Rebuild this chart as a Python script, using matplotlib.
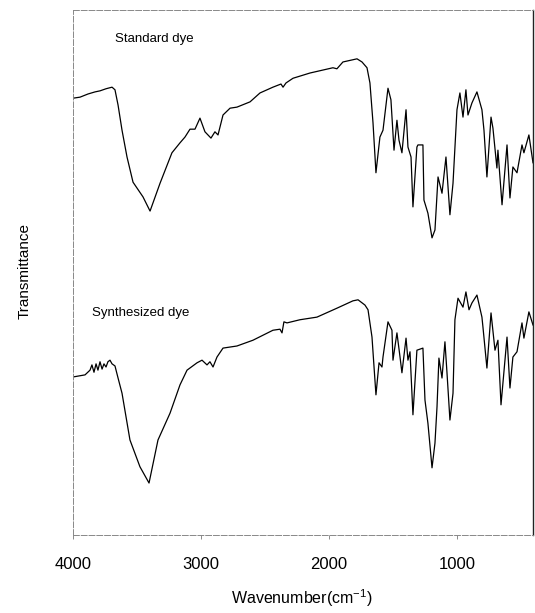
import matplotlib
matplotlib.use("Agg")
import matplotlib.pyplot as plt
import numpy as np

plt.rcParams['font.family'] = ['Liberation Sans', 'DejaVu Sans']
plt.rcParams['mathtext.fontset'] = 'custom'
plt.rcParams['mathtext.rm'] = 'Liberation Sans'
plt.rcParams['mathtext.it'] = 'Liberation Sans:italic'

# FTIR spectra, wavenumber (cm-1) vs transmittance (arbitrary units, offset)
standard_wn = [4000, 3945, 3883, 3828, 3789, 3742, 3695, 3672, 3648, 3617,
               3578, 3531, 3453, 3398, 3320, 3227, 3164, 3125, 3086, 3047,
               3008, 2969, 2922, 2891, 2867, 2828, 2773, 2719, 2617, 2539,
               2438, 2375, 2359, 2336, 2281, 2148, 1969, 1938, 1891, 1781,
               1742, 1703, 1680, 1656, 1633, 1602, 1578, 1539, 1516, 1492,
               1469, 1453, 1430, 1398, 1383, 1359, 1344, 1313, 1305, 1266,
               1258, 1227, 1195, 1172, 1148, 1117, 1086, 1070, 1055, 1031,
               1000, 977, 953, 930, 914, 883, 844, 805, 789, 766,
               734, 719, 688, 680, 648, 609, 586, 563, 531, 492,
               477, 438, 406]
standard_t = [83.2, 83.4, 84.0, 84.4, 84.6, 85.0, 85.3, 84.8, 81.9, 77.1,
              72.0, 67.2, 64.4, 61.7, 67.0, 72.8, 74.7, 75.8, 77.3, 77.3,
              79.4, 76.8, 75.6, 76.8, 76.2, 80.0, 81.3, 81.5, 82.5, 84.2,
              85.3, 85.9, 85.3, 86.1, 87.0, 88.0, 89.0, 88.8, 90.1, 90.7,
              90.1, 89.0, 86.1, 78.5, 69.0, 75.8, 77.1, 85.1, 82.9, 73.3,
              79.0, 75.2, 72.8, 81.0, 73.9, 72.0, 62.5, 73.9, 74.3, 74.3,
              63.8, 61.3, 56.6, 58.1, 68.2, 65.1, 72.0, 66.3, 61.0, 67.0,
              81.0, 84.2, 79.6, 84.8, 80.0, 82.3, 84.4, 81.0, 77.1, 68.2,
              79.6, 77.5, 69.9, 73.3, 62.9, 74.3, 64.2, 70.1, 69.0, 74.3,
              72.8, 76.2, 70.9]

synth_wn = [4000, 3906, 3867, 3852, 3836, 3820, 3805, 3789, 3773, 3758,
            3742, 3727, 3711, 3695, 3672, 3648, 3617, 3555, 3477, 3406,
            3336, 3242, 3164, 3109, 3031, 2992, 2953, 2930, 2906, 2875,
            2828, 2719, 2594, 2438, 2383, 2367, 2352, 2328, 2227, 2094,
            1938, 1813, 1773, 1719, 1695, 1664, 1648, 1633, 1609, 1586,
            1578, 1539, 1508, 1500, 1469, 1445, 1430, 1398, 1383, 1367,
            1344, 1313, 1266, 1250, 1227, 1195, 1172, 1156, 1141, 1117,
            1094, 1078, 1055, 1031, 1016, 992, 953, 930, 906, 883,
            844, 805, 797, 766, 734, 703, 680, 656, 609, 586,
            563, 531, 492, 477, 438, 406]
synth_t = [30.1, 30.5, 31.4, 32.4, 31.0, 32.6, 31.4, 33.0, 31.6, 32.6,
           32.0, 33.0, 33.3, 32.6, 32.2, 29.9, 27.0, 18.1, 13.0, 9.9,
           18.1, 23.2, 28.6, 31.4, 32.8, 33.3, 32.4, 33.0, 32.0, 33.9,
           35.6, 36.0, 37.1, 39.0, 39.2, 38.5, 40.6, 40.4, 41.0, 41.5,
           43.2, 44.6, 44.8, 43.8, 42.9, 37.7, 32.0, 26.7, 32.8, 32.0,
           33.9, 40.6, 39.0, 33.3, 38.5, 33.9, 30.9, 37.5, 33.3, 34.9,
           22.9, 35.2, 35.6, 25.7, 21.3, 12.8, 17.5, 24.4, 33.7, 29.9,
           36.8, 30.9, 21.9, 27.0, 41.0, 45.1, 43.4, 46.3, 42.9, 44.2,
           45.7, 41.5, 39.6, 31.8, 42.3, 35.2, 37.1, 24.8, 37.7, 28.0,
           33.9, 34.9, 40.4, 37.5, 42.5, 40.0]

labels = ['Standard dye', 'Synthesized dye']
label_pos = [(3672, 94.5), (3852, 42.3)]
xticks = [4000, 3000, 2000, 1000]

fig = plt.figure(figsize=(5.35, 6.13), dpi=100)
ax = fig.add_axes([73 / 535, 1 - 535 / 613, 460 / 535, 525 / 613])

ax.plot(standard_wn, standard_t, color='black', lw=0.9)
ax.plot(synth_wn, synth_t, color='black', lw=0.9)

for txt, (x, y) in zip(labels, label_pos):
    ax.text(x, y, txt, fontsize=9.5, ha='left', va='center')

ax.set_xlim(4000, 406)
ax.set_ylim(0, 100)
ax.set_xticks(xticks)
ax.set_xticklabels([str(t) for t in xticks], fontsize=12)
ax.tick_params(axis='x', direction='out', length=3, width=0.6,
               color='#777777', pad=13)
ax.set_yticks([])

for side in ['left', 'top', 'bottom']:
    ax.spines[side].set_color('#888888')
    ax.spines[side].set_linewidth(0.7)
    ax.spines[side].set_linestyle((0, (6, 2)))
ax.spines['right'].set_color('#222222')
ax.spines['right'].set_linewidth(1.0)

ax.set_xlabel(r'Wavenumber(cm$^{-1}$)', fontsize=11.5)
ax.xaxis.set_label_coords(0.497, -0.1)
ax.set_ylabel('Transmittance', fontsize=11)
ax.yaxis.set_label_coords(-0.089, 0.503)

fig.savefig('out.png', dpi=100)
